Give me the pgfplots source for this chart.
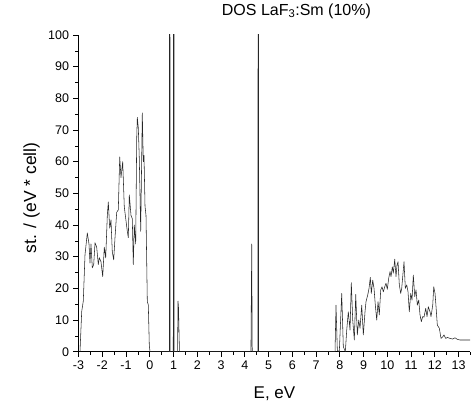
\documentclass[border=0pt]{standalone}
\usepackage{pgfplots}
\pgfplotsset{compat=1.18}
\usepackage{fontspec}
\setmainfont{Liberation Sans}
\begin{document}
\begin{tikzpicture}[x=1bp,y=1bp]
\useasboundingbox (-78.5bp,-51.3bp) rectangle (394.5bp,351.7bp);
\begin{axis}[
  at={(0bp,0bp)}, anchor=south west,
  scale only axis,
  width=391.9bp, height=316.7bp,
  xmin=-3, xmax=13.5, ymin=0, ymax=100,
  axis lines*=left,
  axis line style={line width=0.6bp},
  tick align=outside,
  major tick length=5bp, minor tick length=3bp,
  every tick/.style={line width=0.6bp, black},
  xtick={-3,-2,...,13}, ytick={0,10,...,100},
  minor xtick={-2.5,-1.5,...,13.5}, minor ytick={5,15,...,95},
  /pgf/number format/assume math mode=true,
  tick label style={font=\fontsize{12.5bp}{14bp}\selectfont},
  xticklabel style={yshift=-1bp},
  yticklabel style={xshift=-1bp},
  title={DOS LaF\textsubscript{3}:Sm (10\%)},
  title style={at={(axis description cs:0.556,1)}, anchor=base, yshift=14bp, font=\fontsize{16bp}{18bp}\selectfont},
  xlabel={E, eV},
  xlabel style={at={(axis description cs:0.5,0)}, anchor=base, yshift=-47bp, font=\fontsize{17bp}{19bp}\selectfont},
  ylabel={st. / (eV * cell)},
  every axis y label/.style={at={(axis description cs:-0.12,0.486)}, anchor=center, rotate=90, font=\fontsize{17.5bp}{19bp}\selectfont},
]
\addplot[black!85, line width=0.55bp, line join=round] coordinates {
(-2.937,0) (-2.865,12.7) (-2.798,16) (-2.726,30.6) (-2.629,37.5) (-2.558,34) (-2.516,28) (-2.474,34)
(-2.419,26.5) (-2.36,27.5) (-2.305,34.4) (-2.234,33) (-2.166,27.5) (-2.124,29.7) (-2.053,28.4)
(-1.981,23.7) (-1.914,33) (-1.855,29.6) (-1.787,43) (-1.745,47.3) (-1.686,39) (-1.632,41.6)
(-1.577,31.5) (-1.518,29) (-1.463,36) (-1.392,44) (-1.324,44.8) (-1.265,61.5) (-1.211,55)
(-1.139,60) (-1.072,45.7) (-0.945,38) (-0.903,36) (-0.861,49.5) (-0.789,43) (-0.735,42)
(-0.693,27.5) (-0.651,40) (-0.592,34) (-0.549,67.5) (-0.524,74) (-0.482,70.7) (-0.44,61)
(-0.381,38) (-0.314,75.4) (-0.272,60) (-0.242,62) (-0.2,46) (-0.158,43) (-0.103,15.8)
(-0.061,14.8) (-0.019,2) (0.011,0)
(0.825,0) (0.84,400) (0.855,0) (0.99,0) (1.008,400) (1.025,0)
(1.17,0) (1.19,16) (1.21,14) (1.25,0)
(4.26,0) (4.293,34) (4.315,0) (4.555,0) (4.57,400) (4.585,0)
(7.80,0) (7.842,14.7) (7.897,0.5) (7.981,0) (8.082,18.4) (8.149,1.6) (8.234,0) (8.293,6.8)
(8.36,12.6) (8.432,6.8) (8.486,21.8) (8.545,10) (8.613,3.7) (8.672,18.1) (8.739,5.3) (8.798,10)
(8.853,7.4) (8.924,14.7) (8.992,5.3) (9.063,12.6) (9.105,15.8) (9.177,17.9) (9.232,20)
(9.286,23.5) (9.328,18.4) (9.387,22.6) (9.442,20) (9.497,14.7) (9.556,10) (9.611,15.8)
(9.665,11.6) (9.724,19.5) (9.779,20.5) (9.834,18.9) (9.893,20.5) (9.947,21.6) (10.002,19.7)
(10.061,23.2) (10.116,25.3) (10.158,23.7) (10.213,26.8) (10.255,24.8) (10.314,29.2)
(10.368,23.7) (10.411,27.4) (10.453,28.4) (10.507,21.1) (10.566,18.4) (10.608,20)
(10.663,24.8) (10.705,28.4) (10.76,20) (10.819,21.1) (10.874,18.9) (10.928,12.6) (10.987,18.4)
(11.042,16.3) (11.097,24.2) (11.156,17.4) (11.211,19.5) (11.265,14.7) (11.324,16.3)
(11.379,11.6) (11.434,9.5) (11.493,11.1) (11.547,10.9) (11.619,13.7) (11.674,11.1)
(11.728,14.2) (11.8,12.6) (11.842,11.1) (11.914,14.7) (11.956,20.5) (12.011,18.4)
(12.053,14.2) (12.107,8.4) (12.192,7.4) (12.263,4.2) (12.335,4.7) (12.389,5.3) (12.461,4.2)
(12.528,4.5) (12.642,4.2) (12.756,4) (12.853,4.4) (12.949,3.9) (13.063,3.7) (13.484,3.7)
};
\end{axis}
\end{tikzpicture}
\end{document}
